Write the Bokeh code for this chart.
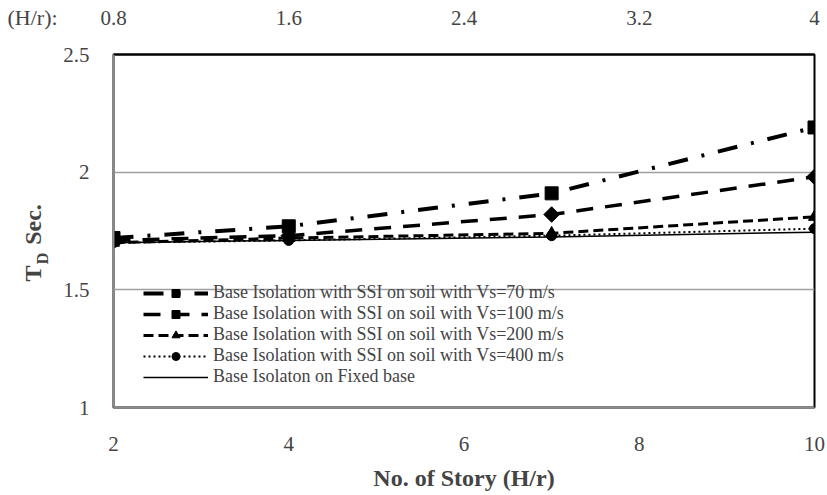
import math
from bokeh.plotting import figure
from bokeh.layouts import row
from bokeh.models import (Range1d, LinearAxis, FixedTicker, Legend, LegendItem, Label)
from bokeh.embed import file_html
from bokeh.resources import INLINE

# ---- data ----
stories = [2, 4, 7, 10]
vs70 = [1.72, 1.77, 1.91, 2.19]
vs100 = [1.71, 1.73, 1.82, 1.98]
vs200 = [1.70, 1.72, 1.74, 1.81]
vs400 = [1.70, 1.71, 1.73, 1.76]
fixed = [1.70, 1.71, 1.725, 1.745]

x_ticks = [2, 4, 6, 8, 10]
y_ticks = [1, 1.5, 2, 2.5]
hr_ticks = [0.8, 1.6, 2.4, 3.2, 4]

names = ["Base Isolation with SSI on soil with Vs=70 m/s",
         "Base Isolation with SSI on soil with Vs=100 m/s",
         "Base Isolation with SSI on soil with Vs=200 m/s",
         "Base Isolation with SSI on soil with Vs=400 m/s",
         "Base Isolaton on Fixed base"]

FONT = "Liberation Serif"
TICK = "21px"
STRIP_W = 60
W, H = 827, 495
FRAME_LEFT, FRAME_RIGHT = 113, 814
FRAME_TOP, FRAME_BOTTOM = 54, 407
MAIN_W = W - STRIP_W

p = figure(width=MAIN_W, height=H, output_backend="svg", toolbar_location=None,
           x_range=Range1d(2, 10), y_range=Range1d(1, 2.5),
           min_border_left=FRAME_LEFT - STRIP_W, min_border_right=W - FRAME_RIGHT,
           min_border_top=FRAME_TOP, min_border_bottom=H - FRAME_BOTTOM)
p.background_fill_color = "white"
p.border_fill_color = "white"
p.outline_line_color = "black"
p.outline_line_width = 2

p.xgrid.visible = False
p.ygrid.ticker = FixedTicker(ticks=[1.5, 2])
p.ygrid.grid_line_color = "#a0a0a0"
p.ygrid.grid_line_width = 1.5

def style_axis(ax, standoff):
    ax.major_tick_line_color = None
    ax.minor_tick_line_color = None
    ax.major_tick_out = 0
    ax.major_tick_in = 0
    ax.minor_tick_out = 0
    ax.minor_tick_in = 0
    ax.major_label_text_font = FONT
    ax.major_label_text_font_size = TICK
    ax.major_label_standoff = standoff

# bottom axis
xa = p.xaxis[0]
xa.ticker = FixedTicker(ticks=x_ticks)
xa.axis_line_color = "#8c8c8c"
xa.axis_line_width = 2
style_axis(xa, 29)
xa.axis_label = "No. of Story (H/r)"
xa.axis_label_text_font = FONT
xa.axis_label_text_font_style = "bold"
xa.axis_label_text_font_size = "24px"
xa.axis_label_standoff = 11

# left axis
ya = p.yaxis[0]
ya.ticker = FixedTicker(ticks=y_ticks)
ya.major_label_overrides = {1: "1", 1.5: "1.5", 2: "2", 2.5: "2.5"}
ya.axis_line_color = "#8c8c8c"
ya.axis_line_width = 2
style_axis(ya, 24)

# top axis (H/r)
p.extra_x_ranges = {"hr": Range1d(0.8, 4)}
ta = LinearAxis(x_range_name="hr", ticker=FixedTicker(ticks=hr_ticks))
ta.major_label_overrides = {0.8: "0.8", 1.6: "1.6", 2.4: "2.4", 3.2: "3.2", 4: "4"}
ta.axis_line_color = "black"
ta.axis_line_width = 2
style_axis(ta, 30)
p.add_layout(ta, "above")

# series
r1l = p.line(stories, vs70, line_color="black", line_width=4, line_dash="20 14 3 14")
r1m = p.scatter(stories, vs70, marker="square", size=13, color="black")
r2l = p.line(stories, vs100, line_color="black", line_width=3.5, line_dash="17 12")
r2m = p.scatter(stories, vs100, marker="square", angle=math.pi / 4, size=11, color="black")
r3l = p.line(stories, vs200, line_color="black", line_width=3, line_dash="10 5")
r3m = p.scatter(stories, vs200, marker="triangle", size=12, color="black")
r4l = p.line(stories, vs400, line_color="black", line_width=2, line_dash="2 3")
r4m = p.scatter(stories, vs400, marker="circle", size=10, color="black")
r5l = p.line(stories, fixed, line_color="black", line_width=1.5)

legend = Legend(items=[
    LegendItem(label=names[0], renderers=[r1l, r1m]),
    LegendItem(label=names[1], renderers=[r2l, r2m]),
    LegendItem(label=names[2], renderers=[r3l, r3m]),
    LegendItem(label=names[3], renderers=[r4l, r4m]),
    LegendItem(label=names[4], renderers=[r5l]),
], location=(30, 20))
legend.background_fill_alpha = 0
legend.border_line_color = None
legend.padding = 0
legend.margin = 0
legend.spacing = 0
legend.label_height = 20
legend.glyph_height = 20
legend.glyph_width = 65
legend.label_standoff = 5
legend.label_text_font = FONT
legend.label_text_font_size = "18px"
p.add_layout(legend, "center")

# ---- left strip holding the y-axis title and the top-axis caption ----
# its frame is aligned with the main frame; ranges are in page pixels
s = figure(width=STRIP_W, height=H, output_backend="svg", toolbar_location=None,
           x_range=Range1d(0, STRIP_W), y_range=Range1d(FRAME_BOTTOM, FRAME_TOP),
           x_axis_location=None, y_axis_location=None, min_border=0)
s.outline_line_color = None
s.xgrid.visible = False
s.ygrid.visible = False
s.background_fill_color = "white"
s.border_fill_color = "white"

def lab(x, y, text, size, bold=True, angle=math.pi / 2, align="center", place="center"):
    s.add_layout(Label(x=x, y=y, text=text, angle=angle, text_font=FONT,
                       text_font_style="bold" if bold else "normal",
                       text_font_size=size, text_align=align, text_baseline="middle"), place)

lab(32, 273, "T", "24px")
lab(42, 258, "D", "16px")
lab(32, 224, "Sec.", "24px")
lab(7, 17, "(H/r):", "22px", bold=False, angle=0, align="left", place="above")

layout = row(s, p, spacing=0)
open("out.html", "w").write(file_html(layout, INLINE))
